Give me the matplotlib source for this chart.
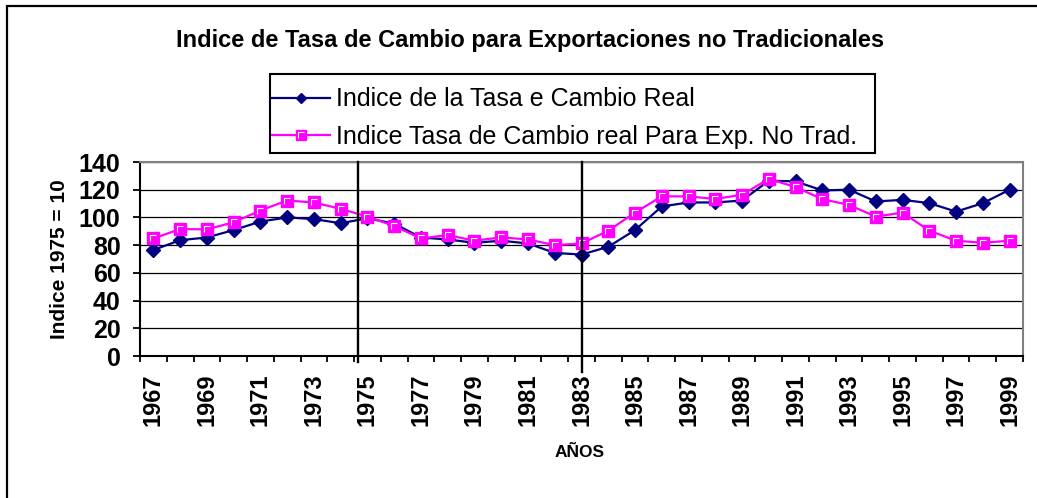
import matplotlib
matplotlib.use('Agg')
import matplotlib.pyplot as plt
from matplotlib.lines import Line2D
from matplotlib.path import Path
from matplotlib.patches import Rectangle
from matplotlib.legend_handler import HandlerTuple

plt.rcParams['font.family'] = ['Liberation Sans', 'DejaVu Sans']

# Data
years = [1967, 1968, 1969, 1970, 1971, 1972, 1973, 1974, 1975, 1976,
         1977, 1978, 1979, 1980, 1981, 1982, 1983, 1984, 1985, 1986,
         1987, 1988, 1989, 1990, 1991, 1992, 1993, 1994, 1995, 1996,
         1997, 1998, 1999]
tasa_real = [76.5, 83.6, 85.5, 90.9, 97.0, 100.0, 98.8, 95.8, 99.4, 95.5,
             85.5, 84.1, 81.7, 83.2, 81.2, 74.4, 73.2, 78.8, 90.9, 107.9,
             110.8, 110.8, 112.2, 126.5, 126.0, 119.5, 120.0, 111.5, 112.7, 110.3,
             104.2, 110.3, 120.0]
tasa_no_trad = [84.8, 91.6, 91.4, 96.5, 105.0, 112.2, 110.8, 106.2, 100.6, 93.8,
                84.8, 87.3, 83.2, 85.6, 84.1, 80.0, 81.2, 90.4, 103.5, 115.2,
                115.2, 113.3, 116.4, 127.8, 121.9, 113.2, 109.0, 100.6, 103.5, 90.4,
                83.2, 81.7, 83.2]
label_real = 'Indice de la Tasa e Cambio Real'
label_no_trad = 'Indice Tasa de Cambio real Para Exp. No Trad.'
yticks = [0, 20, 40, 60, 80, 100, 120, 140]
# hand-drawn vertical separators (year, offset in categories)
separators = [(1975, -0.37), (1983, 0.0)]

W, H = 1037, 498
fig = plt.figure(figsize=(W / 100, H / 100), dpi=100)
ax = fig.add_axes([140 / W, 1 - 356 / H, 883 / W, 194 / H])

x = list(range(len(years)))

# white "L" highlight inside the Excel-style square marker
L_mark = Path([(-1, -1), (-1, 1), (1, 1)], [Path.MOVETO, Path.LINETO, Path.LINETO])

ax.plot(x, tasa_real, color='#000080', lw=1.6, marker='D', ms=7,
        mfc='#000080', mec='#000080', zorder=3)
ax.plot(x, tasa_no_trad, color='#FF00FF', lw=1.6, marker='s', ms=9,
        mfc='#FF00FF', mec='#FF00FF', zorder=4)
ax.plot(x, tasa_no_trad, ls='none', marker=L_mark, ms=5, mfc='none',
        mec='white', mew=0.8, zorder=5)

ax.set_xlim(-0.5, len(years) - 0.5)
ax.set_ylim(0, 140)
ax.set_yticks(yticks)
ax.set_yticklabels([str(v) for v in yticks], fontsize=18, fontweight='bold')
ax.set_xticks(x[::2])
ax.set_xticklabels([str(y) for y in years[::2]], rotation=90,
                   fontsize=17, fontweight='bold')
ax.set_xticks([i - 0.5 for i in range(len(years) + 1)], minor=True)
ax.tick_params(axis='x', which='major', length=0, pad=12.5)
ax.tick_params(axis='x', which='minor', length=4.5, width=1.3, direction='out')
ax.tick_params(axis='y', length=5, width=1.3, pad=9)

ax.grid(axis='y', color='black', lw=0.9)
ax.set_axisbelow(True)
for s in ['left', 'bottom']:
    ax.spines[s].set_color('black')
    ax.spines[s].set_linewidth(1.5)
for s in ['top', 'right']:
    ax.spines[s].set_color('#808080')
    ax.spines[s].set_linewidth(1.5)

for yr, off in separators:
    xi = years.index(yr) + off
    bottom = -4.5 if off else -11.5
    ax.plot([xi, xi], [140, bottom], color='black', lw=1.7, clip_on=False, zorder=6)

ax.set_ylabel('Indice 1975 = 10', fontsize=15, fontweight='bold')
ax.yaxis.set_label_coords((69 - 140) / 883, 0.5)
fig.text(580 / W, 1 - 452 / H, 'AÑOS', fontsize=12.5, fontweight='bold',
         ha='center', va='center')
fig.text(530 / W, 1 - 40 / H,
         'Indice de Tasa de Cambio para Exportaciones no Tradicionales',
         fontsize=17, fontweight='bold', ha='center', va='center')

# legend (entries without frame, box drawn separately)
h_real = Line2D([], [], color='#000080', lw=1.6, marker='D', ms=7, mfc='#000080', mec='#000080')
h_sq = Line2D([], [], color='#FF00FF', lw=1.6, marker='s', ms=9, mfc='#FF00FF', mec='#FF00FF')
h_L = Line2D([], [], ls='none', marker=L_mark, ms=5, mfc='none', mec='white', mew=0.8)
leg = fig.legend([h_real, (h_sq, h_L)], [label_real, label_no_trad],
                 handler_map={tuple: HandlerTuple(ndivide=1, pad=0)},
                 loc='center left', bbox_to_anchor=(272 / W, 1 - 118 / H),
                 fontsize=18, handlelength=2.3, handletextpad=0.25,
                 borderpad=0, labelspacing=0.53, borderaxespad=0,
                 markerscale=0.75, frameon=False)
fig.add_artist(Rectangle((270 / W, 1 - 153 / H), 605 / W, 79 / H,
                         transform=fig.transFigure, fill=False, ec='black', lw=1.5))

# outer chart border (cut off at right and bottom in the reference)
fig.add_artist(Rectangle((7 / W, -0.1), 1.2, 1.1 - 6 / H, transform=fig.transFigure,
                         fill=False, ec='black', lw=1.6))

fig.savefig('out.png', dpi=100)
